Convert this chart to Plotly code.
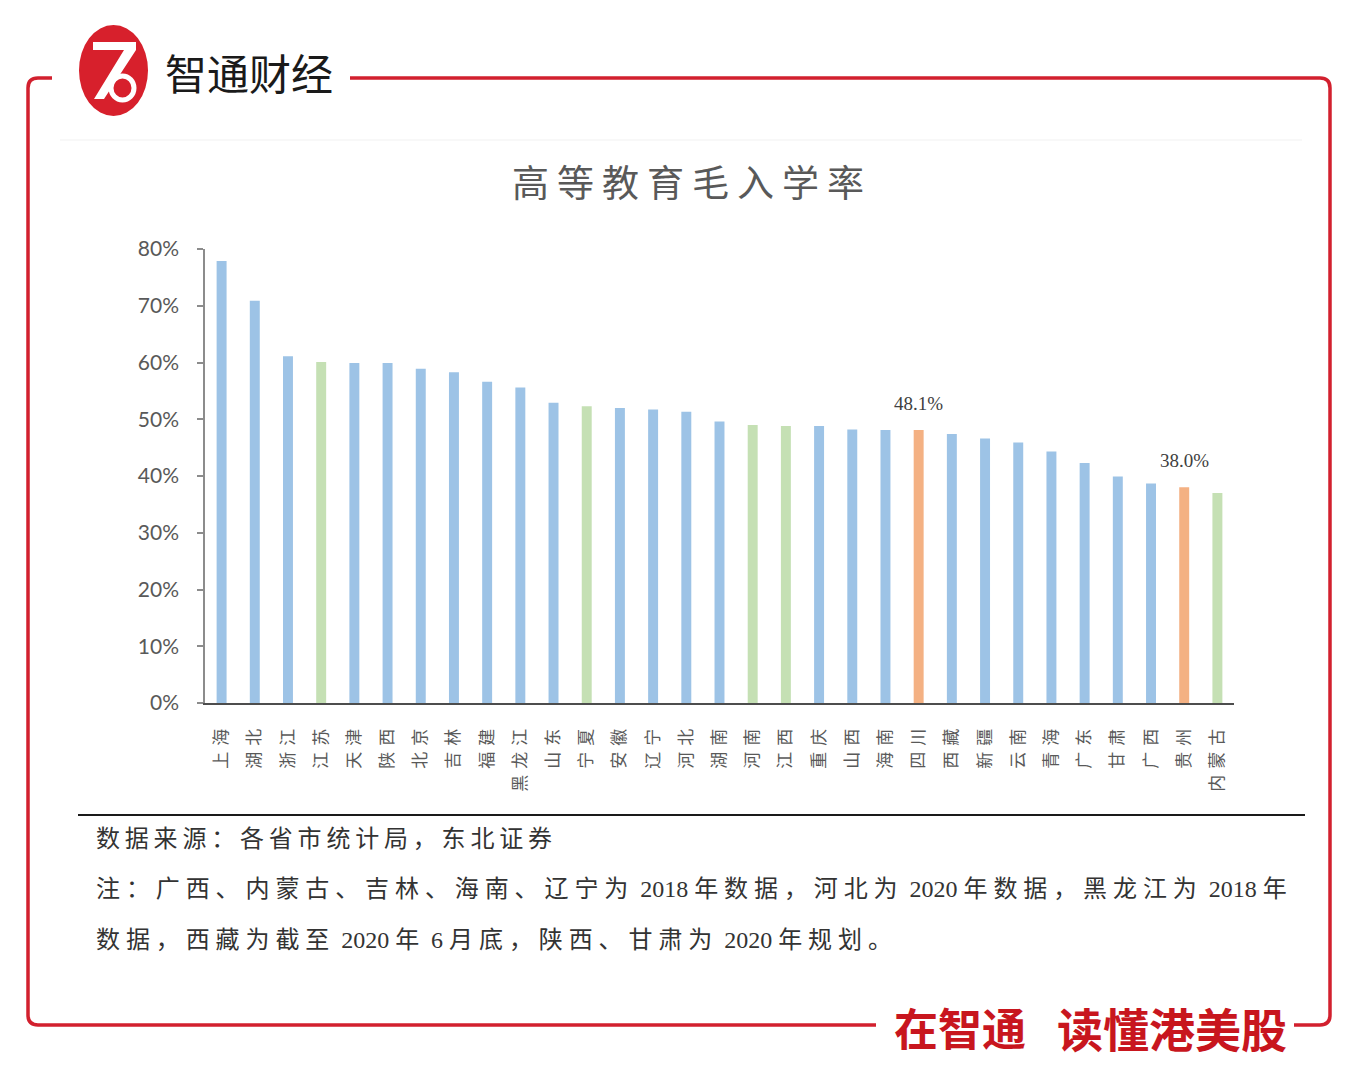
import re
import plotly.graph_objects as go

# ---------------- data ----------------
provinces = ["上海", "湖北", "浙江", "江苏", "天津", "陕西", "北京", "吉林", "福建", "黑龙江",
             "山东", "宁夏", "安徽", "辽宁", "河北", "湖南", "河南", "江西", "重庆", "山西",
             "海南", "四川", "西藏", "新疆", "云南", "青海", "广东", "甘肃", "广西", "贵州", "内蒙古"]
enroll_rate = [77.9, 70.9, 61.1, 60.1, 59.9, 59.9, 58.9, 58.3, 56.6, 55.6,
               52.9, 52.3, 52.0, 51.7, 51.3, 49.6, 49.0, 48.8, 48.8, 48.2,
               48.1, 48.1, 47.4, 46.6, 45.9, 44.3, 42.3, 39.9, 38.7, 38.0, 37.0]
group = ["b", "b", "b", "g", "b", "b", "b", "b", "b", "b",
         "b", "g", "b", "b", "b", "b", "g", "g", "b", "b",
         "b", "o", "b", "b", "b", "b", "b", "b", "b", "o", "g"]
labelled = ["四川", "贵州"]
y_ticks = [0, 10, 20, 30, 40, 50, 60, 70, 80]

title_text = "高等教育毛入学率"
source_lines = [
    "数据来源：各省市统计局，东北证券",
    "注：广西、内蒙古、吉林、海南、辽宁为 2018 年数据，河北为 2020 年数据，黑龙江为 2018 年",
    "数据，西藏为截至 2020 年 6 月底，陕西、甘肃为 2020 年规划。",
]
brand = "智通财经"
slogan_a = "在智通"
slogan_b = "读懂港美股"

# ---------------- styling ----------------
palette = {"b": "#9DC3E6", "g": "#C5E0B4", "o": "#F4B183"}
RED = "#D2202E"
W, H = 1366, 1083
L, R, T, B = 205, 1234, 249, 703
CJK = "Noto Sans CJK SC"
SERIF = "Liberation Serif, Noto Sans CJK SC"


def px(x):
    return (x - L) / (R - L)


def py(y):
    return (B - y) / (B - T)


def spaced(text, sp):
    parts = re.split(r"(\s*\d+\s*)", text)
    out = []
    for part in parts:
        if not part:
            continue
        if re.fullmatch(r"\s*\d+\s*", part):
            out.append(part.replace(" ", "\u00a0"))
        else:
            out.append(f'<span style="letter-spacing:{sp}px">{part}</span>')
    return "".join(out)


fig = go.Figure()
fig.add_trace(go.Bar(
    x=provinces, y=enroll_rate,
    marker=dict(color=[palette[g] for g in group], line=dict(width=0)),
    hoverinfo="x+y", showlegend=False,
))

annotations = []
for p in labelled:
    i = provinces.index(p)
    annotations.append(dict(
        x=p, y=enroll_rate[i], xref="x", yref="y", text=f"{enroll_rate[i]:.1f}%",
        showarrow=False, yanchor="bottom", yshift=14,
        font=dict(family=SERIF, size=19, color="#404040"),
    ))

# title
annotations.append(dict(
    x=px(692), y=py(181), xref="paper", yref="paper",
    text=f'<span style="letter-spacing:8px">{title_text}</span>',
    showarrow=False, xanchor="center", yanchor="middle",
    font=dict(family=CJK, size=37, color="#595959"),
))
# brand text
annotations.append(dict(
    x=px(163), y=py(72), xref="paper", yref="paper", text=brand,
    showarrow=False, xanchor="left", yanchor="middle",
    font=dict(family=CJK, size=42, color="#1a1a1a"),
))
# slogan
annotations.append(dict(
    x=px(892), y=py(1027), xref="paper", yref="paper",
    text=f"<b>{slogan_a}</b>",
    showarrow=False, xanchor="left", yanchor="middle",
    font=dict(family=CJK, size=44, color="#C8161E"),
))
annotations.append(dict(
    x=px(1289), y=py(1027), xref="paper", yref="paper",
    text=f"<b>{slogan_b}</b>",
    showarrow=False, xanchor="right", yanchor="middle",
    font=dict(family=CJK, size=46, color="#C8161E"),
))
# source lines
for k, (line, yy) in enumerate(zip(source_lines, [839, 889, 940])):
    annotations.append(dict(
        x=px(94), y=py(yy), xref="paper", yref="paper",
        text=spaced(line, 4.8 if k == 0 else 5.9),
        showarrow=False, xanchor="left", yanchor="middle", align="left",
        font=dict(family=SERIF, size=24, color="#333333"),
    ))

shapes = []
# red frame (two open paths)
r = 10
left_path = (f"M {px(52)},{py(78)} L {px(28 + r)},{py(78)} "
             f"Q {px(28)},{py(78)} {px(28)},{py(78 + r)} "
             f"L {px(28)},{py(1025 - r)} Q {px(28)},{py(1025)} {px(28 + r)},{py(1025)} "
             f"L {px(876)},{py(1025)}")
right_path = (f"M {px(350)},{py(78)} L {px(1330 - r)},{py(78)} "
              f"Q {px(1330)},{py(78)} {px(1330)},{py(78 + r)} "
              f"L {px(1330)},{py(1025 - r)} Q {px(1330)},{py(1025)} {px(1330 - r)},{py(1025)} "
              f"L {px(1294)},{py(1025)}")
for pth in (left_path, right_path):
    shapes.append(dict(type="path", path=pth, xref="paper", yref="paper",
                       line=dict(color=RED, width=3.5)))
# faint divider
shapes.append(dict(type="line", x0=px(60), x1=px(1302), y0=py(140), y1=py(140),
                   xref="paper", yref="paper", line=dict(color="#f1f1f1", width=1)))
# black rule above source
shapes.append(dict(type="line", x0=px(78), x1=px(1305), y0=py(815), y1=py(815),
                   xref="paper", yref="paper", line=dict(color="#1a1a1a", width=2)))
# logo ellipse
shapes.append(dict(type="circle", x0=px(79), x1=px(148), y0=py(116), y1=py(25),
                   xref="paper", yref="paper", fillcolor="#D7202C", line=dict(width=0)))
# logo glyph (white stylised Z)
zpath = (f"M {px(93)},{py(42)} L {px(136)},{py(42)} L {px(136)},{py(50)} "
         f"L {px(104)},{py(99)} L {px(94)},{py(99)} L {px(124)},{py(50)} L {px(93)},{py(50)} Z")
shapes.append(dict(type="path", path=zpath, xref="paper", yref="paper",
                   fillcolor="white", line=dict(width=0)))
shapes.append(dict(type="circle", x0=px(111), x1=px(134), y0=py(100), y1=py(76),
                   xref="paper", yref="paper", fillcolor="rgba(0,0,0,0)",
                   line=dict(color="white", width=5)))

fig.update_layout(
    width=W, height=H,
    margin=dict(l=L, r=W - R, t=T, b=H - B, pad=0),
    paper_bgcolor="white", plot_bgcolor="white",
    bargap=0.7,
    annotations=annotations, shapes=shapes,
    xaxis=dict(
        tickangle=-90, showgrid=False, showline=True, linecolor="#4d4d4d", linewidth=2,
        ticks="", tickfont=dict(family=SERIF, size=17, color="#595959"),
        tickmode="array", tickvals=provinces,
        ticktext=[f'<span style="letter-spacing:6px">{p}</span>' for p in provinces],
        ticklabelstandoff=11, fixedrange=True,
    ),
    yaxis=dict(
        range=[0, 80], tickmode="array", tickvals=y_ticks,
        ticktext=[f"{v}%" for v in y_ticks],
        showgrid=False, zeroline=False, showline=True, linecolor="#8c8c8c", linewidth=1.5,
        ticks="outside", ticklen=6, tickcolor="#8c8c8c", tickwidth=1.5,
        tickfont=dict(family="Lato", size=21, color="#595959"), ticklabelstandoff=14,
        fixedrange=True,
    ),
)

fig.write_html("out.html", config={"displayModeBar": False},
               post_script="document.body.style.margin='0px';")
